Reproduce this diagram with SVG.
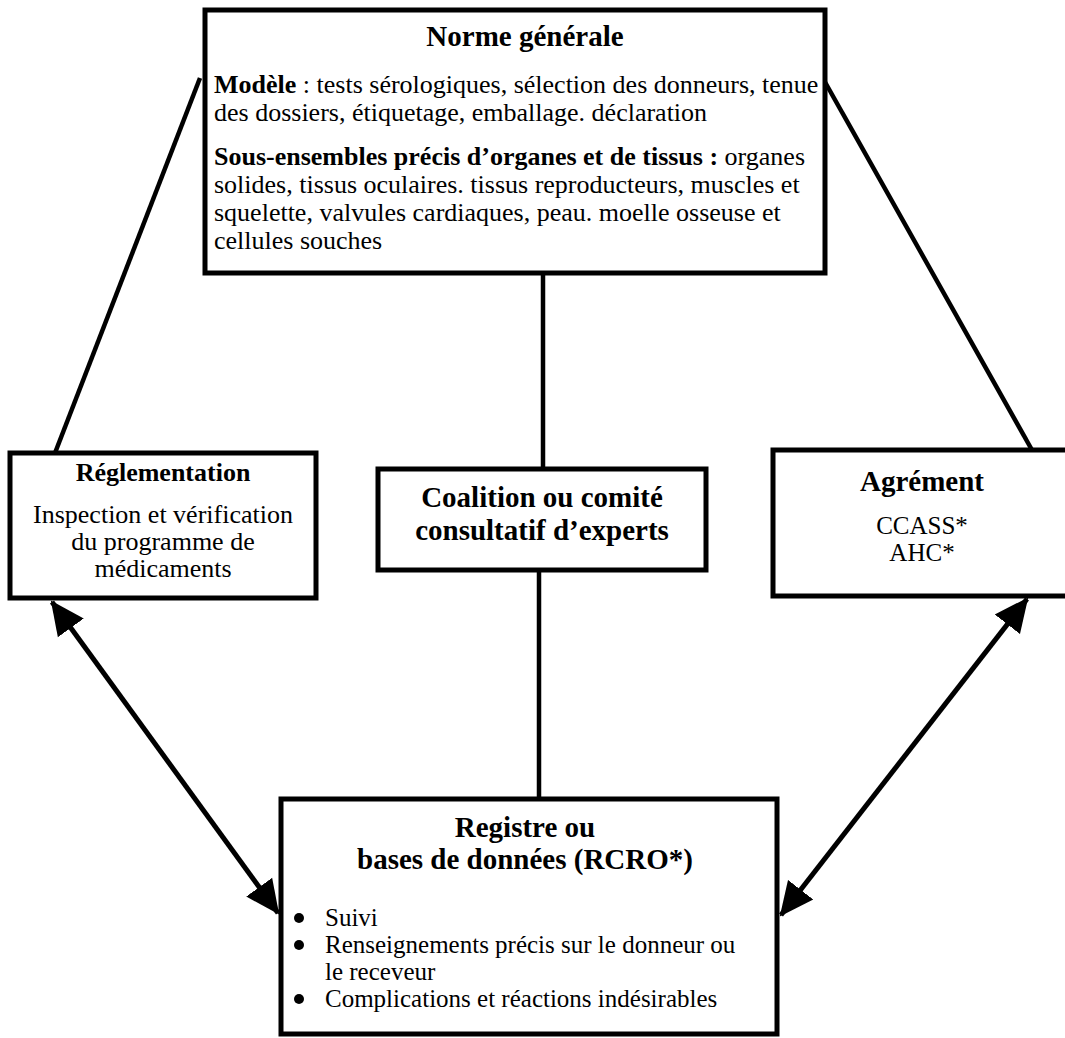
<svg xmlns="http://www.w3.org/2000/svg" width="1065" height="1038" viewBox="0 0 1065 1038">
<style>
text{font-family:"Liberation Serif","Times New Roman",serif;fill:#000}
.t{font-size:29px;font-weight:bold}
.t2{font-size:26px;font-weight:bold}
.b{font-size:26px}
.s{font-size:25px}
.box{fill:#fff;stroke:#000;stroke-width:5}
.ln{stroke:#000;stroke-width:4.5;fill:none}
.ar{stroke:#000;stroke-width:5;fill:none;marker-start:url(#ah);marker-end:url(#ah)}
</style>
<defs>
<marker id="ah" markerUnits="userSpaceOnUse" markerWidth="34" markerHeight="34" viewBox="0 0 34 34" refX="32" refY="17" orient="auto-start-reverse">
<path d="M0,1 L34,17 L0,33 Z" fill="#000"/>
</marker>
</defs>
<rect width="1065" height="1038" fill="#fff"/>
<g id="connectors">
<line class="ln" x1="55" y1="453" x2="200" y2="78"/>
<line class="ln" x1="825" y1="82" x2="1032" y2="450"/>
<line class="ln" x1="543" y1="273" x2="543" y2="469"/>
<line class="ln" x1="539" y1="570" x2="539" y2="799"/>
<line class="ar" x1="52" y1="602" x2="278" y2="913"/>
<line class="ar" x1="1027" y1="599" x2="781" y2="915"/>
</g>
<g id="norme">
<rect class="box" x="205" y="10" width="620" height="263"/>
<text class="t" x="525" y="46" text-anchor="middle">Norme générale</text>
<text class="b" x="214" y="93"><tspan font-weight="bold">Modèle</tspan> : tests sérologiques, sélection des donneurs, tenue</text>
<text class="b" x="214" y="121">des dossiers, étiquetage, emballage. déclaration</text>
<text class="b" x="214" y="165"><tspan font-weight="bold">Sous-ensembles précis d’organes et de tissus :</tspan> organes</text>
<text class="b" x="214" y="193">solides, tissus oculaires. tissus reproducteurs, muscles et</text>
<text class="b" x="214" y="221">squelette, valvules cardiaques, peau. moelle osseuse et</text>
<text class="b" x="214" y="249">cellules souches</text>
</g>
<g id="reglementation">
<rect class="box" x="10" y="453" width="306" height="145"/>
<text class="t2" x="163" y="481" text-anchor="middle">Réglementation</text>
<text class="b" x="163" y="523" text-anchor="middle">Inspection et vérification</text>
<text class="b" x="163" y="550" text-anchor="middle">du programme de</text>
<text class="b" x="163" y="577" text-anchor="middle">médicaments</text>
</g>
<g id="coalition">
<rect class="box" x="378" y="469" width="328" height="101"/>
<text class="t" x="542" y="507" text-anchor="middle">Coalition ou comité</text>
<text class="t" x="542" y="540" text-anchor="middle">consultatif d’experts</text>
</g>
<g id="agrement">
<rect class="box" x="773" y="450" width="310" height="146"/>
<text class="t" x="922" y="491" text-anchor="middle">Agrément</text>
<text class="s" x="922" y="534" text-anchor="middle">CCASS*</text>
<text class="s" x="922" y="561" text-anchor="middle">AHC*</text>
</g>
<g id="registre">
<rect class="box" x="281" y="799" width="496" height="235"/>
<text class="t" x="525" y="837" text-anchor="middle">Registre ou</text>
<text class="t" x="525" y="869" text-anchor="middle">bases de données (RCRO*)</text>
<circle cx="299" cy="918" r="5"/>
<text class="s" x="325" y="926">Suivi</text>
<circle cx="299" cy="945" r="5"/>
<text class="s" x="325" y="953">Renseignements précis sur le donneur ou</text>
<text class="s" x="325" y="980">le receveur</text>
<circle cx="299" cy="999" r="5"/>
<text class="s" x="325" y="1007">Complications et réactions indésirables</text>
</g>
</svg>
